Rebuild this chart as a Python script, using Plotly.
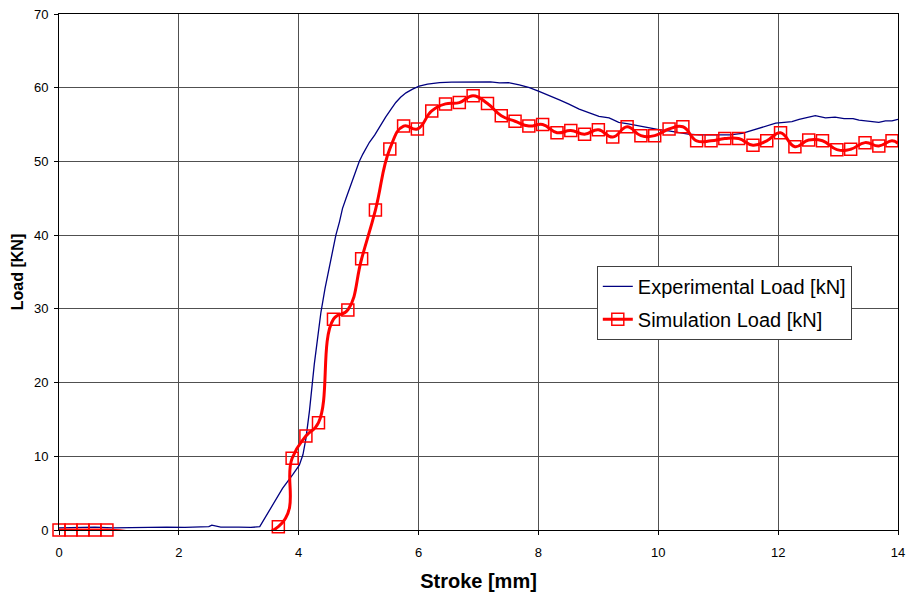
import plotly.graph_objects as go

# Experimental load (blue)
exp_x = [0.0, 0.3, 0.6, 0.9, 1.2, 1.5, 1.8, 2.1, 2.4, 2.5, 2.55, 2.7, 3.0, 3.2, 3.35,
         3.46, 3.6, 3.73, 3.9, 4.01, 4.07, 4.12, 4.18, 4.21, 4.26, 4.29, 4.33, 4.37,
         4.44, 4.51, 4.57, 4.62, 4.68, 4.73, 4.79, 4.85, 4.93, 5.01, 5.07, 5.18, 5.27,
         5.35, 5.45, 5.55, 5.62, 5.7, 5.79, 5.9, 6.01, 6.15, 6.35, 6.55, 6.79, 7.0, 7.2,
         7.35, 7.5, 7.68, 7.85, 8.01, 8.2, 8.35, 8.5, 8.68, 8.85, 9.01, 9.18, 9.34,
         9.5, 9.68, 9.85, 10.01, 10.2, 10.35, 10.5, 10.68, 10.85, 11.01, 11.2, 11.4,
         11.55, 11.68, 11.82, 11.96, 12.1, 12.23, 12.35, 12.46, 12.62, 12.79, 12.95,
         13.1, 13.25, 13.35, 13.5, 13.68, 13.79, 13.9, 14.0]
exp_y = [0.3, 0.35, 0.4, 0.3, 0.35, 0.3, 0.4, 0.35, 0.4, 0.45, 0.65, 0.4, 0.4, 0.35, 0.45,
         2.0, 3.8, 5.65, 7.5, 8.8, 10.2, 12.4, 16.2, 19.0, 22.5, 24.4, 27.0, 29.5,
         32.8, 35.7, 38.0, 40.0, 41.8, 43.6, 45.0, 46.4, 48.4, 50.0, 51.0, 52.6, 53.6,
         54.7, 56.0, 57.2, 58.0, 58.7, 59.3, 59.8, 60.2, 60.5, 60.7, 60.75, 60.8, 60.85, 60.8,
         60.65, 60.7, 60.4, 60.0, 59.5, 58.9, 58.35, 57.8, 57.1, 56.6, 56.1, 55.9, 55.3,
         55.1, 54.8, 54.6, 54.3, 54.1, 53.9, 53.7, 53.6, 53.6, 53.5, 53.6, 53.8,
         54.2, 54.5, 54.9, 55.2, 55.3, 55.4, 55.7, 55.9, 56.2, 55.9, 56.0,
         55.8, 55.8, 55.6, 55.5, 55.3, 55.5, 55.5, 55.7]

# Simulation load (red, with markers)
sim_x = [0.0, 0.2, 0.4, 0.6, 0.8, 3.66, 3.89, 4.12, 4.33, 4.58, 4.82, 5.05, 5.28, 5.52,
         5.75, 5.98, 6.22, 6.45, 6.68, 6.91, 7.15, 7.38, 7.61, 7.84, 8.07, 8.31, 8.54,
         8.77, 9.0, 9.24, 9.48, 9.71, 9.94, 10.18, 10.41, 10.64, 10.88, 11.11, 11.34,
         11.58, 11.81, 12.04, 12.28, 12.51, 12.74, 12.98, 13.21, 13.45, 13.68, 13.9, 14.0]
sim_y = [0.0, 0.0, 0.0, 0.0, 0.0, 0.45, 9.73, 12.75, 14.56, 28.6, 29.85, 36.8, 43.4, 51.7,
         54.8, 54.4, 56.85, 57.8, 57.98, 58.9, 57.85, 56.2, 55.45, 54.8, 55.0, 53.9, 54.2,
         53.7, 54.3, 53.3, 54.7, 53.5, 53.5, 54.4, 54.7, 52.8, 52.8, 53.1, 53.1,
         52.2, 52.8, 53.9, 52.0, 52.9, 52.8, 51.6, 51.65, 52.55, 52.1, 52.8, 52.45]
sim_marker_n = 50  # markers on the first 50 points; last point only continues the line to the edge

x_ticks = [0, 2, 4, 6, 8, 10, 12, 14]
y_ticks = [0, 10, 20, 30, 40, 50, 60, 70]

FONT = "Liberation Sans, Arial, sans-serif"

fig = go.Figure()
fig.add_trace(go.Scatter(
    x=exp_x, y=exp_y, mode="lines", name="Experimental Load [kN]",
    line=dict(color="#000080", width=1.3), legendgroup="a",
))
fig.add_trace(go.Scatter(
    x=sim_x, y=sim_y, mode="lines+markers", name="Simulation Load [kN]",
    line=dict(color="#ff0000", width=3, shape="spline", smoothing=1.3),
    marker=dict(symbol="square-open", size=12, color="#ff0000",
                line=dict(color="#ff0000", width=1.5),
                opacity=[1] * sim_marker_n + [0]),
    legendgroup="b", cliponaxis=False,
))

fig.update_layout(
    width=909, height=596,
    margin=dict(l=59, r=11, t=14, b=66, autoexpand=False),
    paper_bgcolor="white", plot_bgcolor="white",
    font=dict(family=FONT, color="black", size=13),
    showlegend=True,
    legend=dict(
        x=0.641, y=0.512, xanchor="left", yanchor="top",
        bgcolor="white", bordercolor="#404040", borderwidth=1,
        font=dict(family=FONT, size=20, color="black"),
        tracegroupgap=4, traceorder="grouped",
    ),
    xaxis=dict(
        range=[0, 14], tickvals=x_ticks, ticktext=[str(v) for v in x_ticks],
        showgrid=True, gridcolor="#505050", gridwidth=1,
        showline=True, linecolor="black", linewidth=1, mirror=True,
        ticks="outside", ticklen=4, tickcolor="black", automargin=False,
        zeroline=False, ticklabelstandoff=6,
        title=dict(text="<b>Stroke [mm]</b>", font=dict(family=FONT, size=20), standoff=15),
        tickfont=dict(family=FONT, size=13),
    ),
    yaxis=dict(
        range=[0, 70], tickvals=y_ticks, ticktext=[str(v) for v in y_ticks],
        showgrid=True, gridcolor="#505050", gridwidth=1,
        showline=True, linecolor="black", linewidth=1, mirror=True,
        ticks="outside", ticklen=4, tickcolor="black", automargin=False,
        zeroline=False, ticklabelstandoff=3,
        title=dict(text="<b>Load [KN]</b>", font=dict(family=FONT, size=16), standoff=6),
        tickfont=dict(family=FONT, size=13),
    ),
)

fig.write_html("out.html")
